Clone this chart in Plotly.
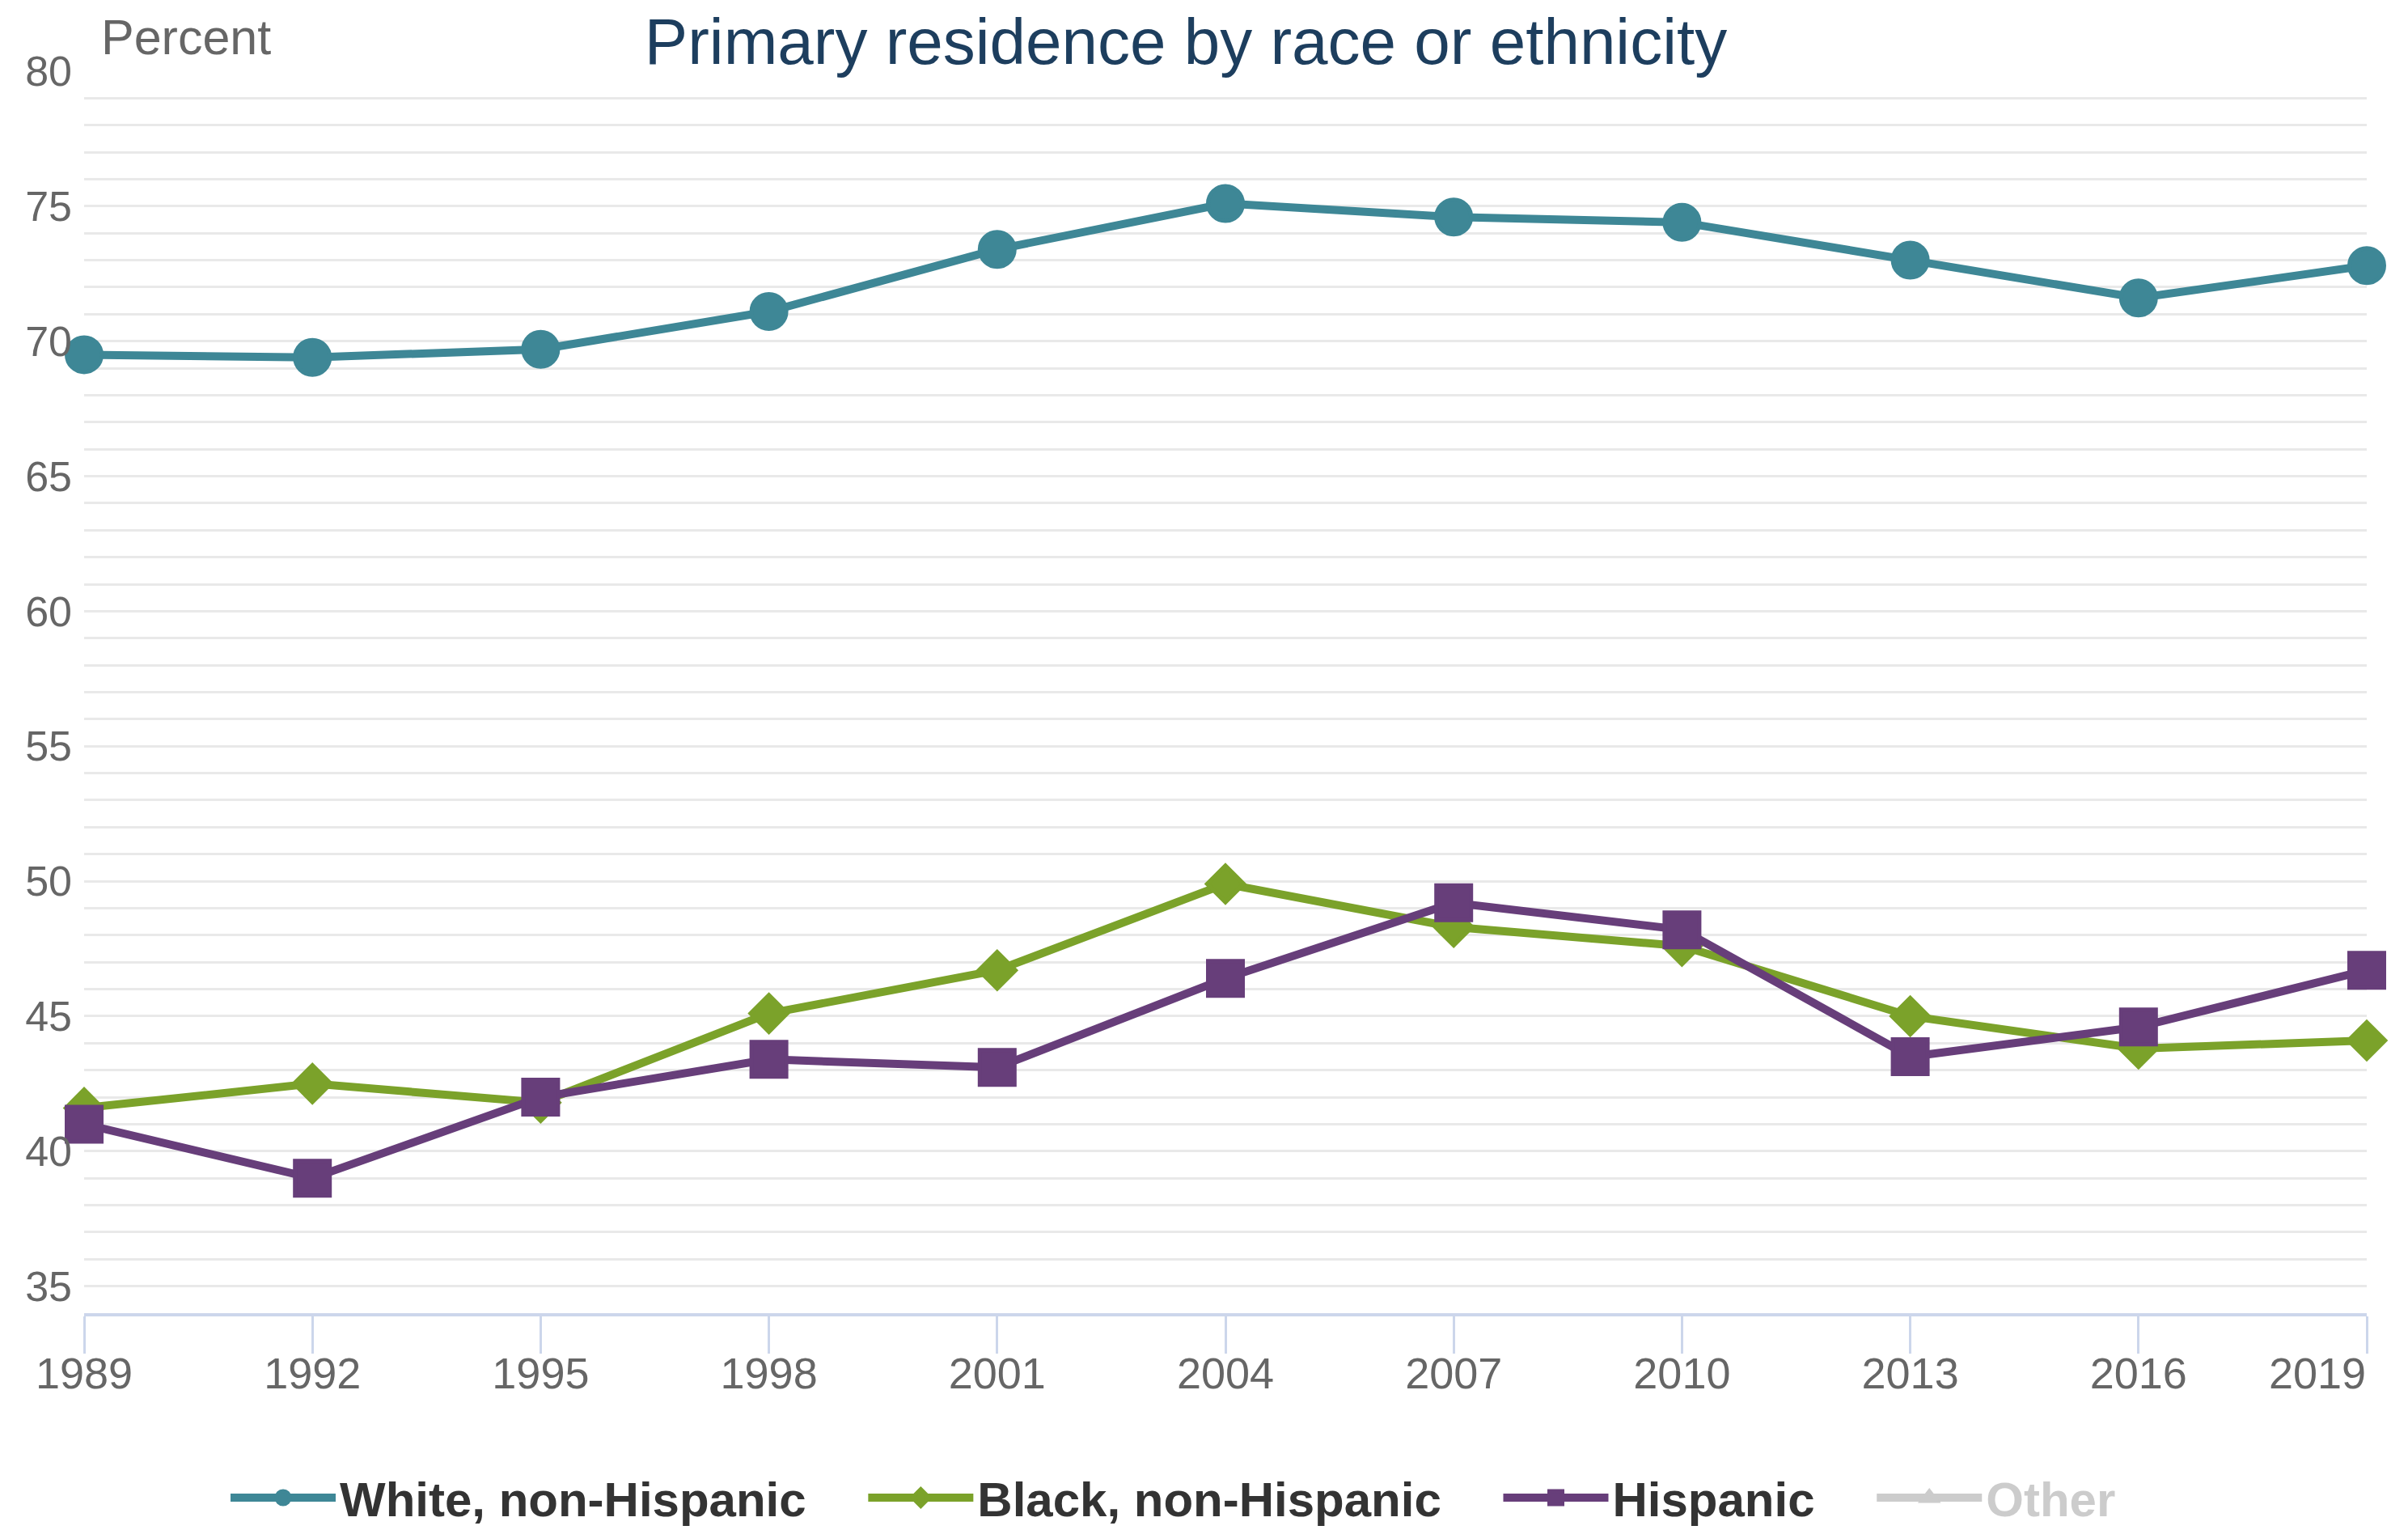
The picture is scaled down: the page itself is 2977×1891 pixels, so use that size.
import plotly.graph_objects as go

# Survey years
years = [1989, 1992, 1995, 1998, 2001, 2004, 2007, 2010, 2013, 2016, 2019]

# Share of families owning their primary residence (percent)
white_non_hispanic = [69.5, 69.4, 69.7, 71.1, 73.4, 75.1, 74.6, 74.4, 73.0, 71.6, 72.8]
black_non_hispanic = [41.6, 42.5, 41.8, 45.1, 46.7, 49.9, 48.3, 47.6, 45.0, 43.8, 44.1]
hispanic = [41.0, 39.0, 42.0, 43.4, 43.1, 46.4, 49.2, 48.2, 43.5, 44.6, 46.7]
other = [None] * len(years)  # series switched off in the legend

# Axis ticks
x_tick_text = [str(y) for y in years]
y_tick_vals = [35, 40, 45, 50, 55, 60, 65, 70, 75, 80]
y_tick_text = [str(v) for v in y_tick_vals]
y_grid_vals = list(range(35, 80))
y_range = [34, 80]

TEAL = "#3e8796"
GREEN = "#7ba22a"
PURPLE = "#673e7a"
OFF = "#999999"  # drawn at half opacity for a legend-only series
FONT = "Liberation Sans, Arial, sans-serif"
TICK_SIZE = 54

PAD = "&nbsp;" * 4

# The final year's label is right-aligned to the axis end so it stays on the page
axis_tick_text = x_tick_text[:-1] + [""]

fig = go.Figure()


def series(x, y, name, color, symbol, size):
    return go.Scatter(
        x=x, y=y, name=name, mode="lines+markers", cliponaxis=False,
        line=dict(color=color, width=10),
        marker=dict(symbol=symbol, size=size, color=color,
                    line=dict(color=color, width=5)),
    )


fig.add_trace(series(years, white_non_hispanic, "White, non-Hispanic" + PAD,
                     TEAL, "circle", 43))
fig.add_trace(series(years, black_non_hispanic, "Black, non-Hispanic" + PAD,
                     GREEN, "diamond", 35))
fig.add_trace(series(years, hispanic, "Hispanic" + PAD,
                     PURPLE, "square", 43))
other_trace = series(years, other, f"<span style='color:{OFF}'>Other</span>",
                     OFF, "triangle-up", 40)
other_trace.visible = "legendonly"
fig.add_trace(other_trace)

# Horizontal grid on an overlaid axis so the top tick keeps its label but no rule
fig.add_trace(go.Scatter(
    x=[None], y=[None], yaxis="y2", showlegend=False, hoverinfo="skip",
))

fig.update_layout(
    width=2977, height=1891,
    margin=dict(l=104, r=51, t=88, b=268, autoexpand=False),
    paper_bgcolor="white", plot_bgcolor="white",
    font=dict(family=FONT, color="#666666"),
    title=dict(
        text="Primary residence by race or ethnicity",
        x=1466 / 2977, xanchor="center", xref="container",
        y=1 - 51 / 1891, yanchor="middle", yref="container",
        font=dict(family=FONT, size=80, color="#1d3e5e"),
    ),
    xaxis=dict(
        range=[years[0], years[-1]], tickvals=years, ticktext=axis_tick_text,
        showgrid=False, zeroline=False,
        showline=True, linecolor="#ccd6eb", linewidth=4,
        ticks="outside", ticklen=46, tickwidth=3, tickcolor="#ccd6eb",
        ticklabelstandoff=-22,
        tickfont=dict(family=FONT, size=TICK_SIZE, color="#666666"),
    ),
    yaxis=dict(
        range=y_range, tickvals=y_tick_vals, ticktext=y_tick_text,
        showgrid=False, zeroline=False, showline=False, ticks="",
        ticklabelstandoff=14,
        tickfont=dict(family=FONT, size=52, color="#666666"),
    ),
    yaxis2=dict(
        overlaying="y", side="left", range=y_range, tickvals=y_grid_vals,
        showticklabels=False, ticks="", showline=False, zeroline=False,
        showgrid=True, gridcolor="#e9e9e9", gridwidth=3,
    ),
    legend=dict(
        orientation="h", xref="paper", yref="paper",
        x=(280 - 104) / 2822, xanchor="left", y=-228 / 1535, yanchor="middle",
        font=dict(family=FONT, size=60, color="#333333", weight="bold"),
        itemwidth=130, itemsizing="trace",
        bgcolor="rgba(0,0,0,0)",
    ),
    showlegend=True,
    annotations=[
        dict(
            text="Percent", xref="paper", yref="paper", x=0, xshift=19,
            xanchor="left", y=1, yshift=42, yanchor="middle", showarrow=False,
            font=dict(family=FONT, size=61, color="#666666"),
        ),
        dict(
            text=x_tick_text[-1], xref="x", yref="paper", x=years[-1],
            xanchor="right", y=0, yshift=-74, yanchor="middle",
            showarrow=False, borderpad=0,
            font=dict(family=FONT, size=TICK_SIZE, color="#666666"),
        ),
    ],
)

fig.write_html("out.html")
